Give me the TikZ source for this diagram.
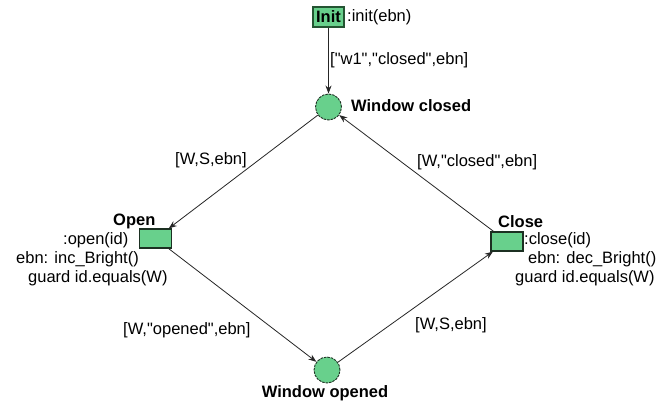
\documentclass[tikz,border=0pt]{standalone}
\usepackage{fontspec}
\newfontfamily\diafont{Liberation Sans}
\usetikzlibrary{arrows.meta}
\definecolor{placegreen}{RGB}{104,208,140}
\definecolor{edgedark}{RGB}{28,48,34}
\definecolor{initedge}{RGB}{36,84,50}
\tikzset{
  lbl/.style={inner sep=0pt, anchor=west, font=\diafont\fontsize{16.5}{19}\selectfont,
              text height=11.5pt, text depth=3.5pt},
  ttl/.style={lbl, font=\diafont\fontsize{16.5}{19}\selectfont\bfseries},
  place/.style={circle, minimum size=26pt, inner sep=0pt, fill=placegreen,
                draw=edgedark, line width=0.9pt, dash pattern=on 2.5pt off 1pt},
  trans/.style={rectangle, minimum width=32pt, minimum height=19pt, inner sep=0pt,
                fill=placegreen, draw=edgedark, line width=1.2pt},
  arc/.style={draw=black!85, line width=0.8pt, -{Stealth[length=8pt,width=6pt]}},
}
\begin{document}
\begin{tikzpicture}[x=1pt,y=-1pt]
  \useasboundingbox[fill=white] (0,0) rectangle (660,405);

  % initial transition
  \node[trans, minimum width=31pt, minimum height=20pt, draw=initedge,
        font=\diafont\fontsize{16.5}{19}\selectfont\bfseries] (init) at (328.5,17) {Init};
  \node[lbl] (initfn) at (347,17) {:init(ebn)};

  % places
  \node[place] (wc) at (328.5,107) {};
  \node[ttl] (wclbl) at (351,107) {Window closed};
  \node[place] (wo) at (327,370) {};
  \node[ttl, anchor=center] (wolbl) at (325,393) {Window opened};

  % transitions
  \node[trans] (open) at (155.5,238.5) {};
  \node[ttl] (openlbl) at (113,221) {Open};
  \node[lbl] (open1) at (63,240) {:open(id)};
  \node[lbl] (open2) at (16,259) {ebn: inc\_Bright()};
  \node[lbl] (open3) at (28,278) {guard id.equals(W)};

  \node[trans] (close) at (507,241.5) {};
  \node[ttl] (closelbl) at (498,223) {Close};
  \node[lbl] (close1) at (524,240) {:close(id)};
  \node[lbl] (close2) at (528,259) {ebn: dec\_Bright()};
  \node[lbl] (close3) at (515,278) {guard id.equals(W)};

  % arcs
  \draw[arc] (init) -- (wc);
  \draw[arc] (wc) -- (open);
  \draw[arc] (open) -- (wo);
  \draw[arc] (wo) -- (close);
  \draw[arc] (close) -- (wc);

  % arc inscriptions
  \node[lbl] (a0) at (330,60) {["w1","closed",ebn]};
  \node[lbl] (a1) at (175,160) {[W,S,ebn]};
  \node[lbl] (a2) at (417,162) {[W,"closed",ebn]};
  \node[lbl] (a3) at (123,330) {[W,"opened",ebn]};
  \node[lbl] (a4) at (415,325) {[W,S,ebn]};
\end{tikzpicture}
\end{document}
